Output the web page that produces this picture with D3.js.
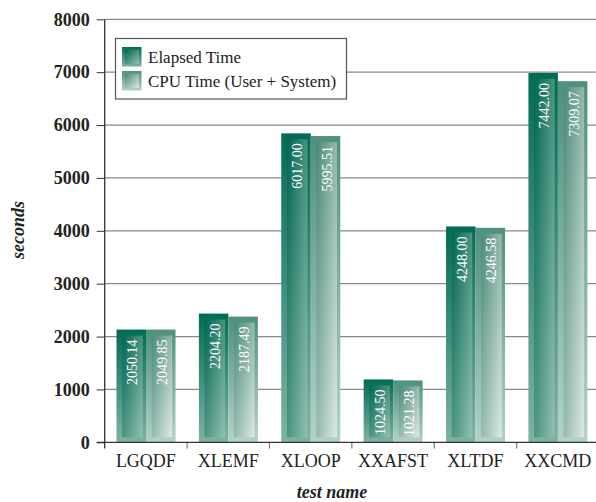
<!DOCTYPE html>
<html><head><meta charset="utf-8">
<script src="https://cdn.jsdelivr.net/npm/d3@7"></script>
<style>body{margin:0;background:#fff}svg{display:block}text{font-family:"Liberation Serif","Times New Roman",serif}</style>
</head><body><svg id="c" width="596" height="502"></svg>
<script>
const categories = ["LGQDF","XLEMF","XLOOP","XXAFST","XLTDF","XXCMD"];
const seriesNames = ["Elapsed Time","CPU Time (User + System)"];
// bar heights as drawn in the picture
const elapsed = [2132, 2434, 5843, 1189, 4082, 6985];
const cpu = [2132, 2377, 5792, 1170, 4057, 6830];
// value labels printed on the bars
const elapsedLabels = ["2050.14","2204.20","6017.00","1024.50","4248.00","7442.00"];
const cpuLabels = ["2049.85","2187.49","5995.51","1021.28","4246.58","7309.07"];
const yTicks = [0,1000,2000,3000,4000,5000,6000,7000,8000];

const svg = d3.select("#c");
const defs = svg.append("defs");
function grad(id, c1, c2, x2, y2){
  const g = defs.append("linearGradient").attr("id", id).attr("x1",0).attr("y1",0).attr("x2",x2).attr("y2",y2);
  g.append("stop").attr("offset","0%").attr("stop-color",c1);
  g.append("stop").attr("offset","100%").attr("stop-color",c2);
}
grad("eOut","#006c56","#7fb2a3",0,1);
grad("eIn","#00664f","#93c0b3",1,1);
grad("cOut","#4f907e","#b3d2c8",0,1);
grad("cIn","#4a8a78","#dde9e5",1,1);

const y = d3.scaleLinear().domain([0,8000]).range([442.3,19.3]);
const x0 = d3.scaleBand().domain(categories).range([104.7,599]);
const x1 = d3.scaleBand().domain([0,1]).range([11.8,70.8]);

// gridlines
svg.append("g").selectAll("line").data(yTicks.filter(d=>d>0)).join("line")
  .attr("x1",104.7).attr("x2",596).attr("y1",d=>y(d)).attr("y2",d=>y(d))
  .attr("stroke","#8a8a8a").attr("stroke-width",1.3);

// y axis
const ya = svg.append("g").attr("transform","translate(104.7,0)")
  .call(d3.axisLeft(y).tickValues(yTicks).tickSize(8).tickPadding(7).tickFormat(d3.format("d")));
ya.select(".domain").remove();
ya.selectAll(".tick line").attr("stroke","#333");
ya.selectAll(".tick text").attr("font-family","Liberation Serif").attr("font-weight","bold").attr("font-size",18).attr("fill","#222");

// x ticks (band boundaries)
const bounds = categories.map(c=>x0(c)).concat([x0.range()[1]]).slice(1);
svg.append("g").selectAll("line").data(bounds).join("line")
  .attr("x1",d=>d).attr("x2",d=>d).attr("y1",442.3).attr("y2",448.5)
  .attr("stroke","#777").attr("stroke-width",1.2);

// bars
const data = categories.map((c,i)=>({c, vals:[
  {s:0, v:elapsed[i], lab:elapsedLabels[i]},
  {s:1, v:cpu[i], lab:cpuLabels[i]}]}));
const groups = svg.append("g").selectAll("g").data(data).join("g")
  .attr("transform",d=>`translate(${x0(d.c)},0)`);
const bars = groups.selectAll("g").data(d=>d.vals).join("g");
const bw = x1.bandwidth();
bars.append("rect").attr("x",d=>x1(d.s)).attr("width",bw)
  .attr("y",d=>y(d.v)).attr("height",d=>y(0)-y(d.v))
  .attr("fill",d=>d.s===0?"url(#eOut)":"url(#cOut)");
bars.append("rect").attr("x",d=>x1(d.s)+5.7).attr("width",bw-9)
  .attr("y",d=>y(d.v)+6).attr("height",d=>y(0)-y(d.v)-11)
  .attr("fill",d=>d.s===0?"url(#eIn)":"url(#cIn)");
bars.append("text")
  .attr("transform",d=>`translate(${x1(d.s)+5.7+(bw-9)/2+5},${y(d.v)+10}) rotate(-90)`)
  .attr("text-anchor","end").attr("font-size",14).attr("fill","#fff")
  .text(d=>d.lab);

// axis lines
svg.append("line").attr("x1",104.7).attr("x2",104.7).attr("y1",19.3).attr("y2",448.5).attr("stroke","#333").attr("stroke-width",1.3);
svg.append("line").attr("x1",96.7).attr("x2",599).attr("y1",442.3).attr("y2",442.3).attr("stroke","#333").attr("stroke-width",1.3);

// x labels
svg.append("g").selectAll("text").data(categories).join("text")
  .attr("x",d=>x0(d)+x0.bandwidth()/2).attr("y",466.5).attr("text-anchor","middle")
  .attr("font-size",18).attr("fill","#222").text(d=>d);

// axis titles
svg.append("text").attr("x",332).attr("y",497.5).attr("text-anchor","middle")
  .attr("font-size",18).attr("font-weight","bold").attr("font-style","italic").attr("fill","#222").text("test name");
svg.append("text").attr("transform","translate(24,230) rotate(-90)").attr("text-anchor","middle")
  .attr("font-size",18).attr("font-weight","bold").attr("font-style","italic").attr("fill","#222").text("seconds");

// legend
const lg = svg.append("g");
lg.append("rect").attr("x",115.5).attr("y",38.5).attr("width",231).attr("height",60.5)
  .attr("fill","#fff").attr("stroke","#555").attr("stroke-width",1.2);
seriesNames.forEach((n,i)=>{
  const yy = 47 + i*24;
  lg.append("rect").attr("x",122).attr("y",yy).attr("width",19.5).attr("height",19.5).attr("fill",i===0?"url(#eOut)":"url(#cOut)");
  lg.append("rect").attr("x",125).attr("y",yy+3).attr("width",14).attr("height",14).attr("fill",i===0?"url(#eIn)":"url(#cIn)");
  lg.append("text").attr("x",148).attr("y",yy+16).attr("font-size",17).attr("fill","#222").text(n);
});
</script></body></html>
